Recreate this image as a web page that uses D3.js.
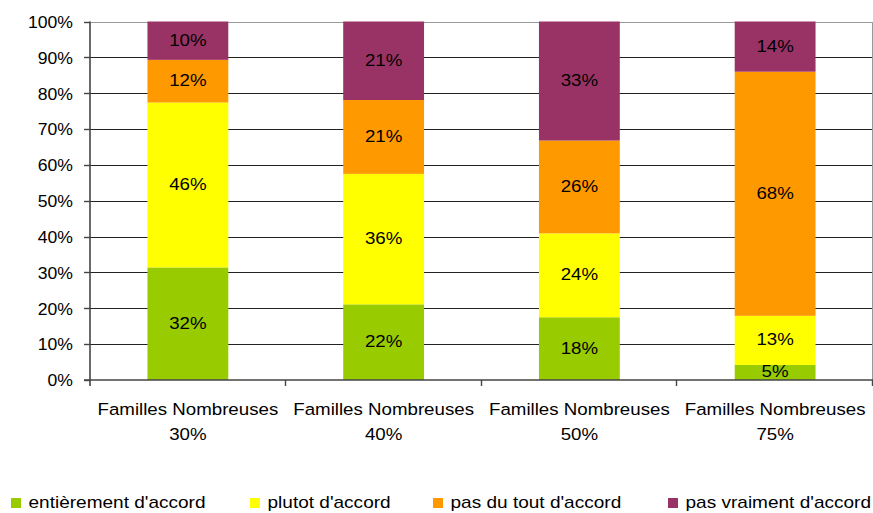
<!DOCTYPE html>
<html>
<head>
<meta charset="utf-8">
<script src="https://cdn.jsdelivr.net/npm/d3@7"></script>
<style>
  html, body { margin: 0; padding: 0; background: #fff; }
  svg { display: block; }
  text { font-family: "Liberation Sans", Arial, Helvetica, sans-serif; fill: #000; }
</style>
</head>
<body>
<svg id="chart" width="873" height="513"></svg>
<script>
// ---- data ----
const categories = ["Familles Nombreuses 30%", "Familles Nombreuses 40%", "Familles Nombreuses 50%", "Familles Nombreuses 75%"];
const categoryLines = [["Familles Nombreuses", "30%"], ["Familles Nombreuses", "40%"], ["Familles Nombreuses", "50%"], ["Familles Nombreuses", "75%"]];
const seriesNames = ["entièrement d'accord", "plutot d'accord", "pas du tout d'accord", "pas vraiment d'accord"];
const seriesColors = ["#99CC00", "#FFFF00", "#FF9900", "#993366"];
const entierement = [31.4, 21.1, 17.5, 4.2];
const plutot = [46.0, 36.4, 23.4, 13.7];
const pasDuTout = [11.9, 20.6, 25.9, 68.1];
const pasVraiment = [10.7, 21.9, 33.2, 14.0];
const entierementLabels = [32, 22, 18, 5];
const plutotLabels = [46, 36, 24, 13];
const pasDuToutLabels = [12, 21, 26, 68];
const pasVraimentLabels = [10, 21, 33, 14];
const yTicks = [0, 10, 20, 30, 40, 50, 60, 70, 80, 90, 100];

const seriesValues = [entierement, plutot, pasDuTout, pasVraiment];
const seriesLabels = [entierementLabels, plutotLabels, pasDuToutLabels, pasVraimentLabels];
const keys = ["s0", "s1", "s2", "s3"];
const table = categories.map((c, i) => {
  const row = { cat: c };
  keys.forEach((k, j) => row[k] = seriesValues[j][i]);
  return row;
});

// ---- layout ----
const svg = d3.select("#chart");
const pLeft = 90, pRight = 873, pTop = 21.5, pBottom = 380;
const SX = 1.1; // horizontal stretch of glyphs

const x = d3.scaleBand().domain(categories).range([pLeft, pRight]).paddingInner(0).paddingOuter(0);
const y = d3.scaleLinear().domain([0, 100]).range([pBottom, pTop]);
const barW = x.bandwidth() * 0.413;

function stretchedText(g, tx, ty, str, size, anchor, sx) {
  return g.append("text")
    .attr("transform", `translate(${tx},${ty}) scale(${sx || SX},1)`)
    .attr("text-anchor", anchor)
    .attr("font-size", size)
    .text(str);
}

// gridlines
const grid = svg.append("g");
grid.selectAll("line").data(yTicks.filter(t => t > 0)).join("line")
  .attr("x1", pLeft - 6).attr("x2", pRight)
  .attr("y1", d => Math.round(y(d)) + 0.5).attr("y2", d => Math.round(y(d)) + 0.5)
  .attr("stroke", d => d === 100 ? "#9a9a9a" : "#222")
  .attr("stroke-width", 1);
// right border
svg.append("line").attr("x1", pRight - 0.5).attr("x2", pRight - 0.5)
  .attr("y1", Math.round(pTop) + 0.5).attr("y2", pBottom)
  .attr("stroke", "#9a9a9a");

// stacked bars
const stack = d3.stack().keys(keys)(table);
const barsG = svg.append("g");
stack.forEach((layer, j) => {
  barsG.selectAll(null).data(layer).join("rect")
    .attr("x", d => x(d.data.cat) + x.bandwidth() / 2 - barW / 2)
    .attr("width", barW)
    .attr("y", d => y(d[1]))
    .attr("height", d => y(d[0]) - y(d[1]))
    .attr("fill", seriesColors[j]);
});

// value labels
const labG = svg.append("g");
stack.forEach((layer, j) => {
  layer.forEach((d, i) => {
    const cx = x(d.data.cat) + x.bandwidth() / 2;
    const cy = (y(d[0]) + y(d[1])) / 2;
    stretchedText(labG, cx, cy + 5, seriesLabels[j][i] + "%", 17, "middle");
  });
});

// axes
const axisColor = "#444";
svg.append("line").attr("x1", pLeft).attr("x2", pLeft).attr("y1", pTop).attr("y2", pBottom + 6)
  .attr("stroke", axisColor).attr("stroke-width", 1.6);
svg.append("line").attr("x1", pLeft - 6).attr("x2", pRight).attr("y1", pBottom).attr("y2", pBottom)
  .attr("stroke", axisColor).attr("stroke-width", 1.6);
// y ticks & labels
const yAxisG = svg.append("g");
yTicks.forEach(t => {
  yAxisG.append("line").attr("x1", pLeft - 6).attr("x2", pLeft)
    .attr("y1", Math.round(y(t)) + 0.5).attr("y2", Math.round(y(t)) + 0.5)
    .attr("stroke", axisColor).attr("stroke-width", 1.4);
  stretchedText(yAxisG, 73, y(t) + 6.3, t + "%", 16, "end");
});
// x category ticks
const xTickPos = categories.map(c => x(c)).concat([pRight]);
svg.append("g").selectAll("line").data(xTickPos.slice(1)).join("line")
  .attr("x1", d => Math.round(d) - 0.5).attr("x2", d => Math.round(d) - 0.5)
  .attr("y1", pBottom).attr("y2", pBottom + 6)
  .attr("stroke", axisColor).attr("stroke-width", 1.4);
// x labels
const xLabG = svg.append("g");
categories.forEach((c, i) => {
  const cx = x(c) + x.bandwidth() / 2;
  categoryLines[i].forEach((ln, k) => {
    stretchedText(xLabG, cx, 415 + k * 24.5, ln, 17, "middle");
  });
});

// legend
const legendX = [11, 250, 433, 668];
const legG = svg.append("g");
seriesNames.forEach((n, j) => {
  legG.append("rect").attr("x", legendX[j]).attr("y", 498).attr("width", 10).attr("height", 10)
    .attr("fill", seriesColors[j]);
  stretchedText(legG, legendX[j] + 17.5, 507.5, n, 17, "start", 1.12);
});
</script>
</body>
</html>
